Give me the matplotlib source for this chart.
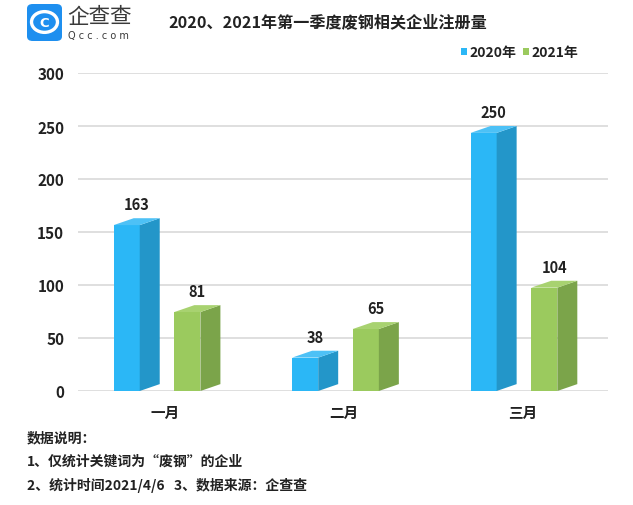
import numpy as np
import matplotlib.pyplot as plt
from matplotlib.patches import Polygon, FancyBboxPatch, Circle, Rectangle

plt.rcParams['font.family'] = ['Noto Sans CJK SC', 'DejaVu Sans']

# data
months = ['一月', '二月', '三月']
years = ['2020年', '2021年']
v2020 = [163, 38, 250]
v2021 = [81, 65, 104]
yticks = [0, 50, 100, 150, 200, 250, 300]

title = '2020、2021年第一季度废钢相关企业注册量'
notes = ['数据说明：', '1、仅统计关键词为“废钢”的企业', '2、统计时间2021/4/6   3、数据来源：企查查']

# colours: front, side, top
blue = ('#2BB7F6', '#2396C9', '#4DC1F6')
green = ('#9BCA5E', '#7BA44A', '#A8D270')

W, H = 633, 506
fig = plt.figure(figsize=(W / 100, H / 100), dpi=100)

def fx(px):
    return px / W

def fy(py):
    return 1 - py / H

ax = fig.add_axes([fx(78), fy(392), fx(608) - fx(78), fy(74) - fy(392)])
ax.set_xlim(-0.49, 2.48)
ax.set_ylim(0, 300)

bw = 0.146   # front width
dx = 0.112   # depth, x
dy = 6.5     # depth, y (the back edge reaches the value)


def bar3d(x0, v, cols):
    x1 = x0 + bw
    f = v - dy
    front = Polygon([(x0, 0), (x1, 0), (x1, f), (x0, f)], closed=True,
                    facecolor=cols[0], edgecolor='none', zorder=3)
    side = Polygon([(x1, 0), (x1 + dx, dy), (x1 + dx, v), (x1, f)], closed=True,
                   facecolor=cols[1], edgecolor='none', zorder=3)
    top = Polygon([(x0, f), (x1, f), (x1 + dx, v), (x0 + dx, v)], closed=True,
                  facecolor=cols[2], edgecolor='none', zorder=3)
    for p in (front, side, top):
        ax.add_patch(p)
    ax.text(x0 + (bw + dx) / 2, v + 13, str(v), ha='center', va='center',
            fontsize=10.5, fontweight='bold', color='#222222', zorder=4)


x = np.arange(len(months))
for i in x:
    bar3d(i - 0.29, v2020[i], blue)
    bar3d(i + 0.05, v2021[i], green)

for t in yticks:
    ax.axhline(t, color='#D9D9D9', lw=1.2, zorder=1)

for s in ax.spines.values():
    s.set_visible(False)
ax.set_yticks(yticks)
ax.set_yticklabels([str(t) for t in yticks], fontsize=11, fontweight='bold', color='#222222')
ax.set_xticks(x)
ax.set_xticklabels(months, fontsize=10.5, fontweight='bold', color='#222222')
ax.tick_params(length=0, pad=10)
ax.tick_params(axis='x', pad=9)

# title
fig.text(fx(168), fy(22), title, ha='left', va='center', fontsize=11.6,
         fontweight='bold', color='#222222')

# logo
fig.patches.append(FancyBboxPatch((fx(27), fy(42)), fx(35), fy(5) - fy(42),
                                  boxstyle='round,pad=0,rounding_size=0.009',
                                  transform=fig.transFigure, facecolor='#1E8FEF',
                                  edgecolor='none'))
fig.patches.append(Circle((fx(44.5), fy(23)), 0.0205, transform=fig.transFigure,
                          facecolor='none', edgecolor='white', lw=2.4))
fig.text(fx(44.5), fy(23.5), 'C', ha='center', va='center', color='white',
         fontsize=9.5, fontweight='bold', family='DejaVu Sans')
fig.text(fx(67), fy(17), '企查查', ha='left', va='center', fontsize=15.5,
         color='#3A3A3A')
fig.text(fx(68), fy(36), 'Q c c . c o m', ha='left', va='center', fontsize=7,
         color='#3A3A3A', family='DejaVu Sans')

# legend
for sx, tx, col, lab in [(461, 469, blue[0], years[0]), (523, 531, green[0], years[1])]:
    fig.patches.append(Rectangle((fx(sx), fy(56)), fx(6), fy(49) - fy(56),
                                 transform=fig.transFigure, facecolor=col,
                                 edgecolor='none'))
    fig.text(fx(tx), fy(52.5), lab, ha='left', va='center', fontsize=10,
             fontweight='bold', color='#222222')

# notes
for k, line in enumerate(notes):
    fig.text(fx(27), fy(438 + 24 * k), line, ha='left', va='center', fontsize=10,
             fontweight='bold', color='#222222')

fig.savefig('out.png', dpi=100, facecolor='white')
